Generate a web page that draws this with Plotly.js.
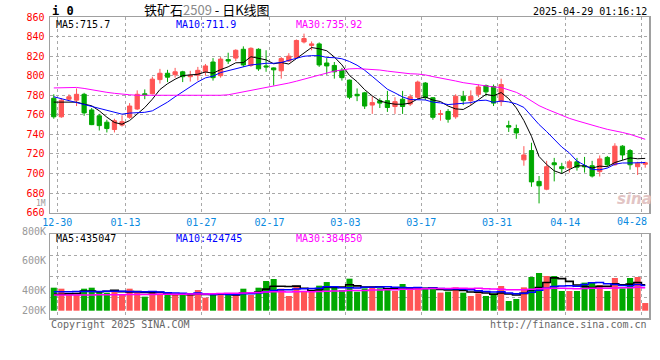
<!DOCTYPE html>
<html><head><meta charset="utf-8">
<script src="https://cdn.plot.ly/plotly-3.0.1.min.js"></script>
<style>html,body{margin:0;padding:0;background:#fff;}#chart{width:660px;height:360px;}</style>
</head><body><div id="chart"></div>
<script>
const dates = ['12-30','12-31','01-02','01-03','01-06','01-07','01-08','01-09','01-10','01-13','01-14','01-15','01-16','01-17','01-20','01-21','01-22','01-23','01-24','01-27','02-05','02-06','02-07','02-10','02-11','02-12','02-13','02-14','02-17','02-18','02-19','02-20','02-21','02-24','02-25','02-26','02-27','02-28','03-03','03-04','03-05','03-06','03-07','03-10','03-11','03-12','03-13','03-14','03-17','03-18','03-19','03-20','03-21','03-24','03-25','03-26','03-27','03-28','03-31','04-01','04-02','04-03','04-07','04-08','04-09','04-10','04-11','04-14','04-15','04-16','04-17','04-18','04-21','04-22','04-23','04-24','04-25','04-28','04-29'];
const tickDates = ['12-30','01-13','01-27','02-17','03-03','03-17','03-31','04-14','04-28'];
const open = [777,758,776,775,781,765,759,752.5,745,749.5, 757.5,766,781.5,781.5,796,802.5,801,804,799,800.5, 804,814,800,816.5,818,827,810.5,827,810,808, 805,815,818.5,834.5,831,832.5,813,810.5,805.5,795.5, 781,782.5,770,774.5,774.5,768.5,776,771,778,792.5, 777.5,760.5,763.5,758,779,774.5,781,790,789,773.5, 749,746,714,723.5,692,684,711,707,706,712, 708,708,702,716.5,709,728,723.5,707,709.5];
const high = [781,777,781,787,782.5,767,761,755,756,759.5, 772,785,786,799,807,806,808,805,805,809, 812,818,819,823.5,827,830,829,828,826,808.5, 819,823,837,843,835,834,818,814,808,796, 787,783.5,779,777,784.5,778,784.5,781,795,793.5, 778,765,766,781,784.5,785,791,791,791,797, 754,750,728,731.5,697.5,713,716,711,714,716, 717,713,718.5,718,731,729,725,712,712];
const low = [756,757,775,769,759,749.5,744,742,742,748, 756,765,776,781,792,793.5,798,793.5,794,795, 800,795,798,812,815,809,809,805,804,790, 797,814,818,833,826,809,801,797,795,776, 774,766,761,767,763,761,761,769,776,775, 755,754,752,756,770,770,778,779,769,769, 742.5,735.5,708,686.5,669.5,683,692,700,701,703, 701,696,697,707,708,714,704,698.5,706];
const close = [758,775,778.5,781,762,750,749,746,754,753, 769,781,780.5,796.5,802.5,798.5,804,799,800.5,805.5, 810,798,817,815,826,811,828,807,809,806, 817.5,820,836,838,832.5,811,810,804,798,778, 779.5,769,772.5,772,767.5,773.5,768.5,778.5,793.5,777.5, 757.5,761,755.5,779,774.5,779,788.5,783.5,772,791, 747.5,741.5,719,691.5,687.5,707,709,705,712,706.5, 707,697.5,715,709,728,719,709,710.5,711];
const ma5 = [773,773,773,773,770.9,769.3,764.1,757.6,752.2,750.4, 754.2,760.6,767.5,776,785.9,791.8,796.4,800.1,800.9,801.5, 803.8,802.6,806.2,809.1,813.2,813.4,819.4,817.4,816.2,812.2, 813.5,811.9,817.7,823.5,828.8,827.5,825.5,819.1,811.1,800.2, 793.9,785.7,779.4,774.2,772.1,770.9,770.8,772,776.3,778.3, 775.1,773.6,769,766.1,765.5,769.8,775.3,780.9,779.5,782.8, 776.5,767.1,754.2,738.1,717.4,709.3,702.8,700,704.1,707.9, 707.9,705.6,707.6,707,711.3,713.7,716,715.1,715.5];
const ma10 = [778.5,776.5,774,772,770,768,766,764,762,760.7, 761.8,762.4,762.6,764.1,768.2,773,778.5,783.8,788.5,793.7, 797.8,799.5,803.2,805,807.4,808.6,811,811.8,812.7,812.7, 813.5,815.7,817.6,819.9,820.5,820.5,818.7,818.4,817.3,814.5, 810.7,805.6,799.3,792.7,786.2,782.4,778.3,775.7,775.3,775.2, 773,772.2,770.5,771.2,771.9,772.5,774.5,775,772.8,774.2, 773.2,771.2,767.6,758.8,750.1,742.9,735,727.1,721.1,712.7, 708.6,704.2,703.8,705.6,709.6,710.8,710.8,711.4,711.3];
const ma30 = [787.5,787.5,788,788,787,785.5,784,783,782,781, 780.5,780,780,780,780,780,780,779.5,779.5,779.5, 779.5,779.5,780,780.5,782,783.5,785,786.5,788,789, 791,792.5,794.4,796.3,798.7,800.7,802.7,804.7,806.1,807, 807.3,806.9,806.7,805.8,804.7,803.8,802.7,802,801.7,800.8, 799.1,797.8,795.8,794.6,792.9,791.8,790.5,789.7,788.5,788, 785.6,783,779.1,774.2,769.4,765.9,762.6,759.3,756.4,754, 751.6,749.2,747.3,745.2,743.9,742,740.1,737.8,735];
const volK = [390,373,266,266,373,390,317,306,334,266, 373,334,238,323,294,266,266,266,266,351, 221,266,294,266,294,373,266,390,503,537, 373,249,424,323,334,424,486,402,351,543, 322,379,407,379,379,334,453,362,379,379, 379,306,323,396,306,249,294,249,294,419, 164,198,396,571,639,588,588,334,334,334, 475,486,436,334,554,379,554,571,130];
const vma5 = [280,280,285,290,334,334,322,330,344,323, 319,323,309,307,312,291,277,283,272,283, 274,274,280,280,268,299,299,318,365,414, 414,410,417,381,341,351,398,394,399,441, 421,399,400,406,373,376,390,381,381,381, 390,361,353,357,342,316,314,299,278,301, 284,265,294,350,394,478,556,544,497,436, 413,393,413,413,457,438,451,478,438];
const vma10 = [320,322,322,324,325,326,327,328,328,328, 326,323,320,325,318,305,300,296,289,298, 283,276,281,276,276,286,286,299,322,341, 356,355,368,373,377,382,404,406,390,391, 386,399,397,403,407,398,395,391,394,377, 383,376,367,369,362,353,337,326,318,322, 300,289,297,314,347,381,411,419,423,415, 446,475,479,455,446,425,422,446,425];
const vma30 = [265,265,266,266,267,268,269,270,271,272, 273,274,275,276,277,278,279,280,281,283, 285,288,291,294,297,301,305,310,316,322, 322,318,323,325,323,325,330,333,334,343, 342,343,349,351,353,356,362,365,369,370, 375,376,377,382,382,378,379,374,367,363, 356,355,354,362,372,378,381,379,378,371, 376,380,381,379,385,387,390,397,389];
const priceLegend = ['MA5:715.7','MA10:711.9','MA30:735.92'];
const volLegend = ['MA5:435047','MA10:424745','MA30:384650'];
const volLabels = ['1M','800K','600K','400K','200K'];

const UP = '#ff5555', DOWN = '#00a800';
const L = 50, R = 649, T = 17, B = 318;
const ax = p => (p - L) / (R - L);
const ay = p => (B - p) / (B - T);
const MONO = 'DejaVu Sans Mono, Liberation Mono, monospace';
const DATE_BLUE = '#0a8ae0';
const idx = dates.map((d, i) => i);
const GRID_SHIFT = 0.46; // sina draws the date grid at the right edge of the candle body
const tickVals = tickDates.map(d => dates.indexOf(d) + GRID_SHIFT);
const lastTick = tickDates[tickDates.length - 1];
// the last date label is pushed left to stay inside the frame, so it is drawn as an annotation
const tickText = tickDates.map(d => d === lastTick ? '' : d);

const traces = [
  {type:'candlestick', x:idx, open:open, high:high, low:low, close:close,
   increasing:{line:{color:UP,width:1}, fillcolor:UP},
   decreasing:{line:{color:DOWN,width:1}, fillcolor:DOWN},
   whiskerwidth:0, xaxis:'x', yaxis:'y', hoverinfo:'skip'},
  {type:'scatter', mode:'lines', x:idx, y:ma5, line:{color:'#000000',width:1}, xaxis:'x', yaxis:'y'},
  {type:'scatter', mode:'lines', x:idx, y:ma10, line:{color:'#0000ff',width:1}, xaxis:'x', yaxis:'y'},
  {type:'scatter', mode:'lines', x:idx, y:ma30, line:{color:'#ff00ff',width:1}, xaxis:'x', yaxis:'y'},
  {type:'bar', x:idx, y:volK, marker:{color:close.map((c,i)=> c>=open[i]?UP:DOWN), line:{width:0}}, xaxis:'x', yaxis:'y2'},
  {type:'scatter', mode:'lines', x:idx, y:vma5, line:{color:'#000000',width:1.6,shape:'hvh'}, xaxis:'x', yaxis:'y2'},
  {type:'scatter', mode:'lines', x:idx, y:vma10, line:{color:'#0000ff',width:1.5,shape:'hvh'}, xaxis:'x', yaxis:'y2'},
  {type:'scatter', mode:'lines', x:idx, y:vma30, line:{color:'#ff00ff',width:1.5,shape:'hvh'}, xaxis:'x', yaxis:'y2'}
];

const volBottomPx = 310.7, volPxPerK = 0.059;
const v2lo = -(B - volBottomPx)/volPxPerK, v2hi = (volBottomPx - 234.3)/volPxPerK;

const ann = [];
function txt(text, x, y, opts){ ann.push(Object.assign({text:text, x:ax(x), y:ay(y), xref:'paper', yref:'paper', showarrow:false, xanchor:'left', yanchor:'middle', font:{family:MONO,size:10,color:'#000'}}, opts||{})); }
txt('<b>i 0</b>', 50, 11, {font:{family:MONO,size:12,color:'#000'}});
txt('铁矿石<span style="color:#8a8a8a">2509</span> - 日K线图', 207, 10, {xanchor:'center', font:{family:'Noto Sans CJK SC',size:13,color:'#000'}});
txt('2025-04-29 01:16:12', 649, 11.5, {xanchor:'right', font:{family:MONO,size:10,color:'#000'}});
const legColors = ['#000000','#0000ff','#ff00ff'];
priceLegend.forEach((t,i)=> txt(t, 54 + 120*i, 24, {font:{family:MONO,size:10,color:legColors[i]}}));
volLegend.forEach((t,i)=> txt(t, 54 + 120*i, 238.5, {font:{family:MONO,size:10,color:legColors[i]}}));
const volLabelPx = [203.5, 231, 260.7, 290.7, 310.7];
volLabels.forEach((t,i)=> txt(t, 47, volLabelPx[i], {xanchor:'right', borderpad:0, font:{family:MONO,size:i===0?8:10,color:'#999999'}}));
txt(lastTick, 649, 221, {xanchor:'right', font:{family:MONO,size:10,color:DATE_BLUE}});
txt('Copyright 2025 SINA.COM', 49, 324, {font:{family:MONO,size:10,color:'#666666'}});
txt('http://finance.sina.com.cn', 649, 324, {xanchor:'right', font:{family:MONO,size:10,color:'#666666'}});
txt('<b><i>sina</i></b>', 634, 199, {xanchor:'center', font:{family:'DejaVu Sans',size:15,color:'#e2c4c4'}});

const gridStyle = {gridcolor:'#a8a8a8', griddash:'dot', gridwidth:1};
const layout = {
  width:660, height:360, paper_bgcolor:'#ffffff', plot_bgcolor:'#ffffff',
  margin:{l:L, r:660-R, t:T, b:360-B, pad:0},
  showlegend:false, boxgap:0.2, bargap:0.2,
  xaxis:Object.assign({type:'linear', range:[-0.5, dates.length-0.5],
    tickmode:'array', tickvals:tickVals, ticktext:tickText, ticks:'', showline:true, mirror:'all', linecolor:'#a0a0a0', linewidth:1.5,
    tickfont:{family:MONO,size:10,color:DATE_BLUE}, anchor:'y', rangeslider:{visible:false}, zeroline:false, fixedrange:true}, gridStyle),
  yaxis:Object.assign({domain:[ay(212.7),1], range:[660,860], dtick:20, tick0:660, ticks:'', showline:true, mirror:true, linecolor:'#a0a0a0', linewidth:1.5,
    tickfont:{family:MONO,size:10,color:'#ff0000'}, zeroline:false, ticklabelstandoff:2}, gridStyle),
  yaxis2:Object.assign({domain:[0, ay(234.3)], range:[v2lo, v2hi], tick0:v2lo, dtick:(v2hi-v2lo)/4, showticklabels:false, ticks:'',
    showline:true, mirror:true, linecolor:'#a0a0a0', linewidth:1.5, zeroline:false, anchor:'x'}, gridStyle),
  annotations:ann
};
Plotly.newPlot('chart', traces, layout, {staticPlot:true, displayModeBar:false});
</script></body></html>
